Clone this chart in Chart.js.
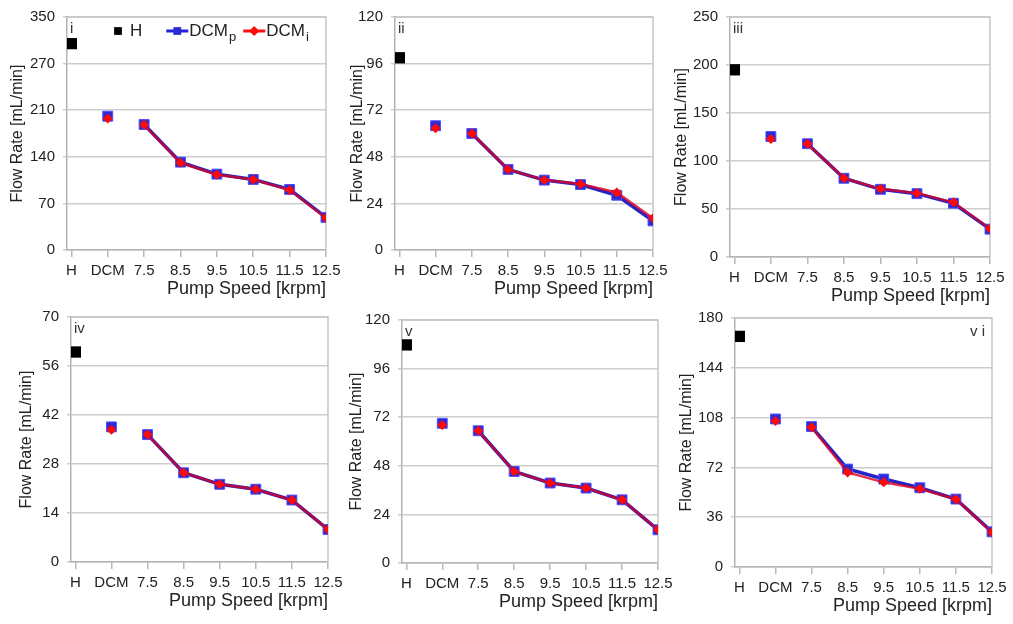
<!DOCTYPE html>
<html>
<head>
<meta charset="utf-8">
<script src="https://cdn.jsdelivr.net/npm/chart.js@4.4.0/dist/chart.umd.min.js"></script>
<style>
  body { margin: 0; background: #fff; width: 1013px; height: 624px; position: relative; overflow: hidden; }
  canvas { position: absolute; }
</style>
</head>
<body>
<script>
// categories on the x axis
const categories = ['H', 'DCM', '7.5', '8.5', '9.5', '10.5', '11.5', '12.5'];
const panelTags = ['i', 'ii', 'iii', 'iv', 'v', 'v i'];

// y axis per panel
const yMax = [350, 120, 250, 70, 120, 180];
const yStep = [70, 24, 50, 14, 24, 36];
// panel i prints "270" on its 280 gridline
const yTickText = [['0', '70', '140', '210', '270', '350'], null, null, null, null, null];

// H value per panel
const hValues = [310, 99, 195, 60, 107.7, 166.7];

// DCM_p and DCM_i: DCM, 7.5 ... 12.5 krpm
const dcmP = [
  [201, 188.5, 132, 114, 106, 91, 49],
  [64, 60, 41.5, 36, 33.7, 28.2, 15],
  [125.5, 118, 82, 70.5, 66, 56, 29],
  [38.6, 36.4, 25.5, 22.2, 20.8, 17.7, 9.3],
  [69, 65.3, 45.2, 39.5, 37, 31.2, 16.4],
  [107, 101.5, 70.8, 63.6, 57.3, 49.1, 25.4]
];
const dcmI = [
  [197.5, 188, 131, 113, 106, 90, 48],
  [62.7, 60, 41.5, 36, 34, 29.6, 16.3],
  [123, 118, 82, 71, 66.5, 57, 29.5],
  [37.8, 36.4, 25.5, 22.2, 20.8, 17.7, 9.3],
  [68.2, 65.3, 45.2, 39.5, 37, 31.2, 16.4],
  [105.6, 101, 68.4, 61.2, 56.5, 49, 25]
];

Chart.defaults.font.family = '"Liberation Sans", Arial, sans-serif';
Chart.defaults.color = '#222';

// plot boxes in page pixels (title x, left, right, top, bottom)
const boxes = [
  { tx: 18, l: 67, r: 326, t: 16, b: 250, top: 0 },
  { tx: 358, l: 395, r: 653, t: 16, b: 250, top: 0 },
  { tx: 682, l: 730, r: 990, t: 16, b: 257, top: 0 },
  { tx: 27, l: 71, r: 328, t: 315, b: 562, top: 300 },
  { tx: 357, l: 402, r: 658, t: 320, b: 563, top: 300 },
  { tx: 687, l: 735, r: 992, t: 318, b: 567, top: 300 }
];
const X_H = 48;
const PAD_R = 20;

const framePlugin = {
  id: 'frame',
  beforeDatasetsDraw(chart) {
    const { ctx, chartArea: a } = chart;
    ctx.save();
    ctx.strokeStyle = '#c6c6c6';
    ctx.lineWidth = 1.5;
    ctx.beginPath();
    ctx.moveTo(a.left, a.top);
    ctx.lineTo(a.right, a.top);
    ctx.lineTo(a.right, a.bottom);
    ctx.stroke();
    ctx.restore();
  }
};

const tagPlugin = {
  id: 'tag',
  afterDraw(chart, args, opts) {
    const { ctx, chartArea: a } = chart;
    ctx.save();
    ctx.font = '15px "Liberation Sans", Arial, sans-serif';
    ctx.fillStyle = '#333';
    ctx.textBaseline = 'top';
    if (opts.right) {
      ctx.textAlign = 'right';
      ctx.fillText(opts.text, a.right - 7, a.top + 6);
    } else {
      ctx.textAlign = 'left';
      ctx.fillText(opts.text, a.left + 3, a.top + 4);
    }
    ctx.restore();
  }
};

// legend drawn inside the first panel, with subscripts
const keyPlugin = {
  id: 'key',
  afterDraw(chart, args, opts) {
    if (!opts.show) return;
    const { ctx } = chart;
    const items = [
      { ds: 0, name: 'H', sub: '', gap: 24 },
      { ds: 2, name: 'DCM', sub: 'p', gap: 7 },
      { ds: 1, name: 'DCM', sub: 'i', gap: 0 }
    ];
    let x = opts.x;
    const y = opts.y;
    ctx.save();
    items.forEach(it => {
      const d = chart.data.datasets[it.ds];
      if (d.showLine === false) {
        ctx.fillStyle = '#000';
        Chart.helpers.drawPoint(ctx, { pointStyle: d.pointStyle, radius: 5.5, borderWidth: 0 }, x + 4, y);
        x += 16;
      } else {
        ctx.strokeStyle = it.sub === 'p' ? '#2020e0' : '#ff1010';
        ctx.lineWidth = 3;
        ctx.beginPath();
        ctx.moveTo(x, y);
        ctx.lineTo(x + 22, y);
        ctx.stroke();
        ctx.fillStyle = d.pointBackgroundColor;
        ctx.strokeStyle = d.pointBackgroundColor;
        Chart.helpers.drawPoint(ctx, { pointStyle: d.pointStyle, radius: d.pointStyle === 'rect' ? 5.5 : 5, borderWidth: 0 }, x + 11, y);
        x += 23;
      }
      ctx.fillStyle = '#222';
      ctx.textBaseline = 'middle';
      ctx.textAlign = 'left';
      ctx.font = '17px "Liberation Sans", Arial, sans-serif';
      ctx.fillText(it.name, x, y);
      x += ctx.measureText(it.name).width;
      if (it.sub) {
        ctx.font = '13px "Liberation Sans", Arial, sans-serif';
        ctx.fillText(it.sub, x + 1, y + 6);
        x += ctx.measureText(it.sub).width + 1;
      }
      x += it.gap;
    });
    ctx.restore();
  }
};

boxes.forEach((bx, k) => {
  const canvas = document.createElement('canvas');
  const left = bx.tx - 8;
  canvas.width = bx.r + PAD_R - left;
  canvas.height = bx.b + X_H - bx.top;
  canvas.style.left = left + 'px';
  canvas.style.top = bx.top + 'px';
  document.body.appendChild(canvas);
  const yW = bx.l - left;

  const pts = arr => arr.map((v, j) => ({ x: j + 1, y: v }));
  const skipGap = c => (c.p0DataIndex === 0 ? 'rgba(0,0,0,0)' : undefined);

  new Chart(canvas, {
    type: 'line',
    data: {
      datasets: [
        {
          label: 'H',
          data: [{ x: 0, y: hValues[k] }],
          showLine: false,
          pointStyle: 'rect',
          pointRadius: 8,
          pointBackgroundColor: '#000',
          pointBorderColor: '#000',
          pointBorderWidth: 0,
          order: 2
        },
        {
          label: 'DCMi',
          data: pts(dcmI[k]),
          borderColor: 'rgba(220,0,30,0.8)',
          borderWidth: 2.5,
          pointStyle: 'rectRot',
          pointRadius: 5,
          pointBackgroundColor: '#ff0a0a',
          pointBorderColor: '#ff0a0a',
          pointBorderWidth: 0,
          segment: { borderColor: skipGap },
          order: 0
        },
        {
          label: 'DCMp',
          data: pts(dcmP[k]),
          borderColor: '#2323c8',
          borderWidth: 3.5,
          pointStyle: 'rect',
          pointRadius: 7,
          pointBackgroundColor: '#2a2ad6',
          pointBorderColor: '#4f4fff',
          pointBorderWidth: 1,
          segment: { borderColor: skipGap },
          order: 1
        }
      ]
    },
    options: {
      responsive: false,
      animation: false,
      events: [],
      layout: { padding: { top: bx.t - bx.top, right: PAD_R, left: 0, bottom: 0 } },
      elements: { line: { tension: 0 } },
      plugins: {
        legend: { display: false },
        tooltip: { enabled: false },
        tag: { text: panelTags[k], right: k === 5 },
        key: { show: k === 0, x: 104, y: 31 }
      },
      scales: {
        x: {
          type: 'linear',
          min: -0.12,
          max: 7,
          afterBuildTicks: s => { s.ticks = categories.map((c, i) => ({ value: i })); },
          afterFit: s => { s.height = X_H; },
          ticks: {
            callback: v => categories[v],
            font: { size: 15 },
            color: '#222',
            padding: 5,
            maxRotation: 0,
            autoSkip: false
          },
          grid: { drawOnChartArea: false, drawTicks: true, tickLength: 7, color: '#b8b8b8', lineWidth: 1.5 },
          border: { display: true, color: '#b4b4b4', width: 1.5 },
          title: {
            display: true,
            text: 'Pump Speed [krpm]',
            align: 'end',
            color: '#222',
            font: { size: 18, lineHeight: 1 },
            padding: 0
          }
        },
        y: {
          min: 0,
          max: yMax[k],
          afterFit: s => { s.width = yW; },
          ticks: {
            stepSize: yStep[k],
            font: { size: 15 },
            color: '#222',
            padding: 8,
            callback: (v, i) => (yTickText[k] ? yTickText[k][i] : v)
          },
          grid: { color: '#cdcdcd', lineWidth: 1.5, drawTicks: true, tickLength: 4 },
          border: { display: true, color: '#b4b4b4', width: 1.5 },
          title: {
            display: true,
            text: 'Flow Rate [mL/min]',
            color: '#222',
            font: { size: 16, lineHeight: 1 },
            padding: 0
          }
        }
      }
    },
    plugins: [framePlugin, tagPlugin, keyPlugin]
  });
});
</script>
</body>
</html>
